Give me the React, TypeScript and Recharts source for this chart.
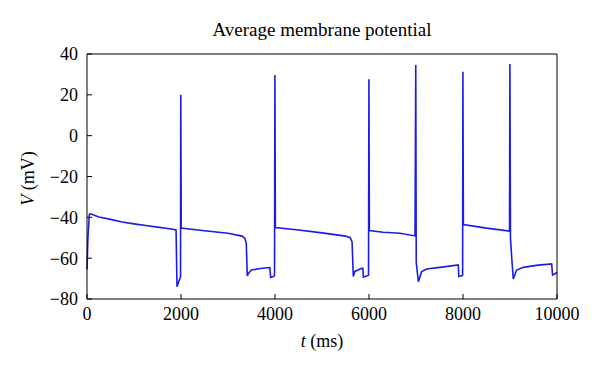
import React from "react";
import { LineChart, Line, XAxis, YAxis, Label } from "recharts";

// time (ms) and average membrane potential (mV)
const timeMs = [
  0, 20, 50, 80, 250, 500, 750, 1000, 1250, 1500, 1750, 1895, 1915, 1975, 1990,
  1995, 2005, 2500, 3000, 3300, 3360, 3390, 3410, 3440, 3500, 3650, 3890, 3908,
  3965, 3990, 3998, 4008, 4500, 5000, 5500, 5600, 5640, 5666, 5700, 5844, 5870,
  5880, 5972, 5990, 5998, 6008, 6300, 6660, 6979, 6995, 7005, 7050, 7120, 7230,
  7510, 7900, 7910, 7985, 7992, 7998, 8008, 8500, 8990, 8998, 9010, 9040, 9070,
  9140, 9283, 9600, 9886, 9906, 9957, 10000,
];
const voltage = [
  -65.5, -50, -38.5, -38.3, -39.8, -41.0, -42.3, -43.2, -44.0, -44.8, -45.6,
  -46.2, -74, -70, -69.5, 20, -45.3, -46.6, -47.8, -49.2, -50.3, -53, -68.7,
  -67.3, -65.8, -65.2, -64.6, -69.4, -69, -68.5, 29.7, -45, -46.2, -47.6, -49.2,
  -50, -52, -69, -66.5, -65, -65, -69.3, -68.5, -68.3, 27.6, -46.5, -47.3, -47.8,
  -49.1, 34.6, -62, -71.5, -66.6, -65.3, -64.5, -63.3, -69, -68.5, -68.3, 31.3,
  -43.5, -45.3, -46.7, 35.1, -50.3, -60.9, -70.2, -65.8, -64.5, -63.4, -62.8,
  -68.2, -67.6, -67,
];

const xTicks = [0, 2000, 4000, 6000, 8000, 10000];
const yTicks = [-80, -60, -40, -20, 0, 20, 40];
const title = "Average membrane potential";

const data = timeMs.map((t, i) => ({ t, v: voltage[i] }));

const FONT = "'Liberation Serif', 'DejaVu Serif', serif";
const serif = { fontFamily: FONT };
const fmt = (v: number) => (v < 0 ? `\u2212${-v}` : `${v}`);

const XTick = (props: any) => (
  <text x={props.x} y={props.y} dy="0.71em" textAnchor="middle" fontSize={18} style={serif} fill="#000">
    {fmt(props.payload.value)}
  </text>
);

const YTick = (props: any) => (
  <text x={props.x} y={props.y} dy="0.355em" textAnchor="end" fontSize={18} style={serif} fill="#000">
    {fmt(props.payload.value)}
  </text>
);

const XTitle = (props: any) => {
  const { x, y, width } = props.viewBox;
  return (
    <text x={x + width / 2} y={y + 48} textAnchor="middle" fontSize={18} style={serif} fill="#000">
      <tspan fontStyle="italic">t</tspan> (ms)
    </text>
  );
};

const YTitle = (props: any) => {
  const { y, height } = props.viewBox;
  const cx = 34;
  const cy = y + height / 2 + 2;
  return (
    <text x={cx} y={cy} transform={`rotate(-90 ${cx} ${cy})`} textAnchor="middle" fontSize={18} style={serif} fill="#000">
      <tspan fontStyle="italic">V</tspan> (mV)
    </text>
  );
};

const TopTitle = (props: any) => {
  const { x, y, width } = props.viewBox;
  return (
    <text x={x + width / 2} y={y - 17} textAnchor="middle" fontSize={19} style={serif} fill="#000">
      {title}
    </text>
  );
};

export default function App() {
  const axisLine = { stroke: "#000", strokeWidth: 1 };
  return (
    <div style={{ position: "absolute", left: 0, top: 0, background: "#fff", fontFamily: FONT }}>
      <LineChart width={600} height={376} data={data} margin={{ top: 53, right: 42, bottom: 0, left: 0 }}>
        <XAxis
          dataKey="t"
          type="number"
          domain={[0, 10000]}
          ticks={xTicks}
          height={77}
          tick={(p: any) => <XTick {...p} />}
          tickSize={-5}
          tickMargin={13}
          axisLine={axisLine}
          tickLine={axisLine}
        >
          <Label content={XTitle} />
        </XAxis>
        <XAxis
          xAxisId="top"
          orientation="top"
          type="number"
          domain={[0, 10000]}
          ticks={xTicks}
          height={1}
          tick={false}
          tickSize={-5}
          axisLine={axisLine}
          tickLine={axisLine}
        >
          <Label content={TopTitle} />
        </XAxis>
        <YAxis
          type="number"
          domain={[-80, 40]}
          ticks={yTicks}
          width={87}
          tick={(p: any) => <YTick {...p} />}
          tickSize={-5}
          tickMargin={14}
          axisLine={axisLine}
          tickLine={axisLine}
        >
          <Label content={YTitle} />
        </YAxis>
        <YAxis
          yAxisId="right"
          orientation="right"
          type="number"
          domain={[-80, 40]}
          ticks={yTicks}
          width={1}
          tick={false}
          tickSize={-5}
          axisLine={axisLine}
          tickLine={axisLine}
        />
        <Line
          type="linear"
          dataKey="v"
          stroke="#1c1ce8"
          strokeWidth={1.6}
          dot={false}
          isAnimationActive={false}
        />
      </LineChart>
    </div>
  );
}
